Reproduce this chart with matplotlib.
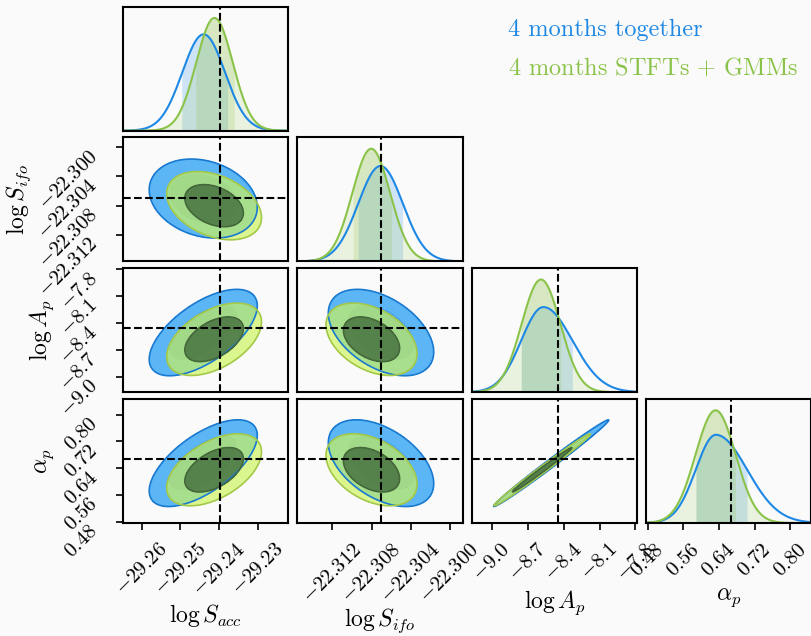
import numpy as np
import matplotlib.pyplot as plt

plt.rcParams['font.family'] = 'serif'
plt.rcParams['font.serif'] = ['cmr10']
plt.rcParams['mathtext.fontset'] = 'cm'
plt.rcParams['axes.unicode_minus'] = False

# parameter order: log S_acc, log S_ifo, log A_p, alpha_p
names = [r'$\log S_{acc}$', r'$\log S_{ifo}$', r'$\log A_p$', r'$\alpha_p$']
truth = [-29.2398, -22.3070, -8.45, 0.6665]
limits = [(-29.2649, -29.2222), (-22.3156, -22.2987), (-9.171, -7.787), (0.476, 0.847)]

ticks = [
    [-29.26, -29.25, -29.24, -29.23],
    [-22.312, -22.308, -22.304, -22.300],
    [-9.0, -8.7, -8.4, -8.1, -7.8],
    [0.48, 0.56, 0.64, 0.72, 0.80],
]
tick_labels = [
    [r'$-29.26$', r'$-29.25$', r'$-29.24$', r'$-29.23$'],
    [r'$-22.312$', r'$-22.308$', r'$-22.304$', r'$-22.300$'],
    [r'$-9.0$', r'$-8.7$', r'$-8.4$', r'$-8.1$', r'$-7.8$'],
    [r'$0.48$', r'$0.56$', r'$0.64$', r'$0.72$', r'$0.80$'],
]

# chain 1: 4 months together
blue_mode = [-29.2440, -22.30708, -8.570, 0.6326]
blue_sig_lo = [0.0055, 0.00228, 0.186, 0.045]
blue_sig_hi = [0.0055, 0.00228, 0.243, 0.070]
blue_int_lo = [-29.2497, -22.30939, -8.756, 0.588]
blue_int_hi = [-29.2378, -22.30481, -8.327, 0.703]
blue_center = [-29.2441, -22.30703, -8.505, 0.655]
blue_sigma = [0.0057, 0.0022, 0.197, 0.053]
blue_corr = np.array([
    [1.0, -0.22, 0.62, 0.64],
    [-0.22, 1.0, -0.45, -0.47],
    [0.62, -0.45, 1.0, 0.993],
    [0.64, -0.47, 0.993, 1.0],
])

# chain 2: 4 months STFTs + GMMs
green_mode = [-29.2412, -22.30803, -8.59, 0.632]
green_sig_lo = [0.0047, 0.00193, 0.162, 0.045]
green_sig_hi = [0.0047, 0.00193, 0.162, 0.045]
green_int_lo = [-29.2461, -22.30990, -8.756, 0.588]
green_int_hi = [-29.2361, -22.30593, -8.423, 0.677]
green_center = [-29.2413, -22.3080, -8.58, 0.6352]
green_sigma = [0.0050, 0.0019, 0.165, 0.044]
green_corr = np.array([
    [1.0, -0.35, 0.48, 0.50],
    [-0.35, 1.0, -0.40, -0.40],
    [0.48, -0.40, 1.0, 0.993],
    [0.50, -0.40, 0.993, 1.0],
])

levels = [0.68, 0.95]

# axis label positions (axes fraction), x labels on bottom row, y labels on first column
xlabel_y = [-0.64, -0.675, -0.53, -0.51]
ylabel_x = [None, -0.545, -0.405, -0.405]

# fills / edges / alphas are given as (inner, outer)
chains = [
    dict(label='4 months together', color='#1E88E5', mode=blue_mode, lo=blue_sig_lo, hi=blue_sig_hi,
         ilo=blue_int_lo, ihi=blue_int_hi, center=blue_center, sigma=blue_sigma, corr=blue_corr,
         fills=['#4aa2ea', '#5cb6f6'], edges=[None, '#1a7ad0'], alphas=[1.0, 1.0], whole=False),
    dict(label='4 months STFTs + GMMs', color='#8BC34A', mode=green_mode, lo=green_sig_lo, hi=green_sig_hi,
         ilo=green_int_lo, ihi=green_int_hi, center=green_center, sigma=green_sigma, corr=green_corr,
         fills=['#577c2f', '#cdf45c'], edges=['#44683a', '#a3c84a'], alphas=[0.85, 0.68], whole=True),
]

bg = '#fafafa'
fig, axes = plt.subplots(4, 4, figsize=(8.11, 6.36), dpi=100, facecolor=bg)
fig.subplots_adjust(left=0.1513, right=1.0005, top=0.9895, bottom=0.1777, wspace=0.055, hspace=0.055)

r2 = [-2 * np.log(1 - p) for p in levels]

for i in range(4):
    for j in range(4):
        ax = axes[i, j]
        if j > i:
            ax.axis('off')
            continue
        ax.set_facecolor(bg)
        ax.set_xlim(limits[j])
        if i == j:
            x = np.linspace(limits[j][0], limits[j][1], 600)
            ymax = 0
            for c in chains:
                m, sl, sh = c['mode'][j], c['lo'][j], c['hi'][j]
                s = np.where(x < m, sl, sh)
                y = np.sqrt(2 / np.pi) / (sl + sh) * np.exp(-0.5 * ((x - m) / s) ** 2)
                ymax = max(ymax, y.max())
                if c['whole']:
                    ax.fill_between(x, 0, y, color=c['color'], alpha=0.15, lw=0)
                mask = (x >= c['ilo'][j]) & (x <= c['ihi'][j])
                ax.fill_between(x[mask], 0, y[mask], color=c['color'], alpha=0.2, lw=0)
                c['_y'] = y
            for c in chains:
                ax.plot(x, c['_y'], color=c['color'], lw=1.5)
            ax.axvline(truth[j], color='k', ls='--', lw=1.5)
            ax.set_ylim(0, 1.1 * ymax)
        else:
            ax.set_ylim(limits[i])
            xs = np.linspace(limits[j][0], limits[j][1], 500)
            ys = np.linspace(limits[i][0], limits[i][1], 500)
            X, Y = np.meshgrid(xs, ys)
            for c in chains:
                zx = (X - c['center'][j]) / c['sigma'][j]
                zy = (Y - c['center'][i]) / c['sigma'][i]
                rho = c['corr'][i, j]
                d2 = (zx ** 2 - 2 * rho * zx * zy + zy ** 2) / (1 - rho ** 2)
                ax.contourf(X, Y, d2, levels=[r2[0], r2[1]], colors=[c['fills'][1]], alpha=c['alphas'][1])
                ax.contourf(X, Y, d2, levels=[0, r2[0]], colors=[c['fills'][0]], alpha=c['alphas'][0])
                ax.contour(X, Y, d2, levels=[r2[1]], colors=[c['edges'][1]], linewidths=1.2)
                if c['edges'][0]:
                    ax.contour(X, Y, d2, levels=[r2[0]], colors=[c['edges'][0]], linewidths=1.2)
            ax.axvline(truth[j], color='k', ls='--', lw=1.5)
            ax.axhline(truth[i], color='k', ls='--', lw=1.5)

        for sp in ax.spines.values():
            sp.set_linewidth(1.5)
        ax.tick_params(direction='out', length=5, width=1.2, labelsize=15)
        ax.tick_params(axis='x', pad=7.5)
        ax.tick_params(axis='y', pad=10.5)
        if i == 3:
            ax.set_xticks(ticks[j], tick_labels[j], rotation=45)
            ax.set_xlabel(names[j], fontsize=17)
            ax.xaxis.set_label_coords(0.5, xlabel_y[j])
        else:
            ax.set_xticks([])
        if j == 0 and i > 0:
            ax.set_yticks(ticks[i], tick_labels[i], rotation=45, va='top')
            ax.set_ylabel(names[i], fontsize=17)
            ax.yaxis.set_label_coords(ylabel_x[i], 0.5)
        else:
            ax.set_yticks([])

fig.text(508 / 811, 1 - 30 / 636, chains[0]['label'], color=chains[0]['color'], fontsize=17.5, va='center')
fig.text(508 / 811, 1 - 68 / 636, r'4 months STFTs $+$ GMMs', color=chains[1]['color'], fontsize=17.5, va='center')

fig.savefig('out.png', dpi=100, facecolor=bg)
